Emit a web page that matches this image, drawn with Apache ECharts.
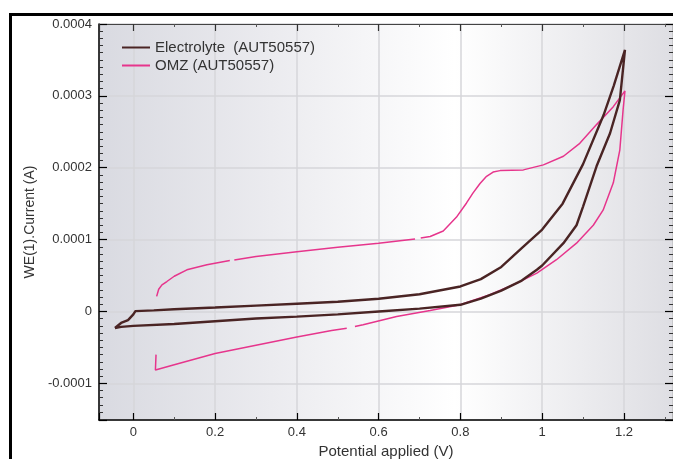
<!DOCTYPE html>
<html>
<head>
<meta charset="utf-8">
<script src="https://cdn.jsdelivr.net/npm/echarts@6/dist/echarts.min.js"></script>
<style>
html,body{margin:0;padding:0;background:#fff;}
#c{width:673px;height:459px;}
</style>
</head>
<body>
<div id="c"></div>
<script>
// ---- data ----
const seriesNames = ['Electrolyte  (AUT50557)', 'OMZ (AUT50557)'];

// Electrolyte: forward branch (left end -> vertex) then return branch (vertex -> left end)
const electrolyteV = [-0.045,-0.03,-0.013,0.0,0.005,0.05,0.1,0.2,0.3,0.4,0.5,0.6,0.7,0.8,0.85,0.9,0.95,1.0,1.05,1.1,1.15,1.175,1.2025,
  1.19,1.166,1.133,1.1,1.084,1.052,1.0,0.987,0.95,0.9,0.85,0.8,0.7,0.6,0.5,0.4,0.3,0.2,0.1,0.0,-0.03,-0.045];
const electrolyteI = [-0.000023,-0.000016,-0.000012,-0.000004,0.0000005,0.0000015,0.000003,0.0000055,0.0000082,0.0000108,0.0000135,0.0000177,0.000024,0.0000348,0.000045,0.000062,0.000088,0.000114,0.00015,0.000205,0.000273,0.000314,0.000364,
  0.000294,0.000248,0.000202,0.000146,0.00012,0.000095,0.000064,0.000058,0.000043,0.000029,0.000018,0.0000093,0.000004,0.0,-0.000004,-0.0000072,-0.0000098,-0.0000135,-0.0000175,-0.00002,-0.0000215,-0.000023];

// OMZ: forward branch then return branch (null = small gap in the trace)
const omzV = [0.057,0.062,0.07,0.082,0.1,0.131,0.18,0.236,0.241,0.247,0.3,0.4,0.5,0.6,0.689,0.696,0.703,0.726,0.758,0.79,0.815,0.831,0.848,0.864,0.88,0.897,0.954,1.003,1.052,1.092,1.133,1.174,1.2025,
  1.198,1.19,1.174,1.149,1.125,1.084,1.035,0.987,0.938,0.872,0.799,0.726,0.644,0.562,0.542,0.532,0.522,0.485,0.4,0.3,0.2,0.1,0.054,0.0555];
const omzI = [0.000021,0.000031,0.000037,0.0000417,0.000049,0.000058,0.000065,0.000071,null,0.0000715,0.0000765,0.000083,0.0000893,0.000095,0.0001008,null,0.0001023,0.0001043,0.000112,0.000131,0.000151,0.000165,0.000178,0.000188,0.000194,0.000196,0.000197,0.000204,0.000216,0.000234,0.00026,0.000285,0.000307,
  0.000281,0.000225,0.000179,0.000141,0.00012,0.000095,0.000072,0.0000534,0.0000395,0.0000232,0.0000093,0.0000014,-0.000007,-0.0000185,-0.000021,null,-0.0000235,-0.0000265,-0.0000355,-0.000047,-0.0000585,-0.000074,-0.0000815,-0.00006];

const xTicks = [0,0.2,0.4,0.6,0.8,1.0,1.2];
const xTickLabels = ['0','0.2','0.4','0.6','0.8','1','1.2'];
const yTicks = [-0.0001,0,0.0001,0.0002,0.0003,0.0004];
const yTickLabels = ['-0.0001','0','0.0001','0.0002','0.0003','0.0004'];

// ---- build ----
function pairs(xs, ys){ return xs.map((x,i)=>[x, ys[i] === null ? null : ys[i]]); }
function labelFrom(ticks, labels, tol){
  return function(v){
    for (let i=0;i<ticks.length;i++){ if (Math.abs(v-ticks[i])<tol) return labels[i]; }
    return '';
  };
}

const xMin = -0.084, xMax = 1.32;
const yMin = -0.000151, yMax = 0.0004;
const font = '"Liberation Sans", Arial, sans-serif';

const chart = echarts.init(document.getElementById('c'), null, {renderer:'canvas'});
chart.setOption({
  animation:false,
  backgroundColor:'#ffffff',
  textStyle:{fontFamily:font},
  grid:{
    left:99, right:0, top:24, bottom:39, show:true, borderWidth:0,
    containLabel:false, outerBoundsMode:'none',
    backgroundColor:{type:'linear',x:0,y:0,x2:1,y2:0,colorStops:[
      {offset:0,color:'#d9dae1'},{offset:0.3,color:'#ebebef'},{offset:0.62,color:'#ffffff'},{offset:1,color:'#dedee3'}]}
  },
  legend:{
    orient:'vertical', left:117, top:35, itemWidth:28, itemHeight:2, itemGap:3,
    icon:'rect',
    textStyle:{fontSize:15, color:'#333', fontFamily:font},
    data:seriesNames
  },
  xAxis:[{
    type:'value', min:xMin, max:xMax, splitNumber:7, position:'bottom',
    name:'Potential applied (V)', nameLocation:'middle', nameGap:21,
    nameTextStyle:{fontSize:15, color:'#333', fontFamily:font},
    axisLine:{show:true, onZero:false, lineStyle:{color:'#000', width:1.5}},
    axisTick:{show:true, inside:true, length:7, lineStyle:{color:'#000', width:1.2}},
    minorTick:{show:true, splitNumber:2, length:3, lineStyle:{color:'#555', width:1}},
    splitLine:{show:true, lineStyle:{color:'#d6d6da', width:1.5}},
    axisLabel:{margin:6, fontSize:13, color:'#333', fontFamily:font, formatter:labelFrom(xTicks,xTickLabels,1e-6)}
  },{
    type:'value', min:xMin, max:xMax, splitNumber:7, position:'top',
    axisLine:{show:true, onZero:false, lineStyle:{color:'#444', width:1.2}},
    axisTick:{show:true, inside:true, length:7, lineStyle:{color:'#333', width:1.2}},
    minorTick:{show:true, splitNumber:2, length:3, lineStyle:{color:'#555', width:1}},
    splitLine:{show:false}, axisLabel:{show:false}
  }],
  yAxis:[{
    type:'value', min:yMin, max:yMax, splitNumber:5, position:'left',
    name:'WE(1).Current (A)', nameLocation:'middle', nameGap:61, nameRotate:90,
    nameTextStyle:{fontSize:14, color:'#333', fontFamily:font},
    axisLine:{show:true, onZero:false, lineStyle:{color:'#000', width:1.5}},
    axisTick:{show:true, inside:true, length:8, lineStyle:{color:'#000', width:1.2}},
    minorTick:{show:true, splitNumber:10, length:4, lineStyle:{color:'#333', width:1}},
    splitLine:{show:true, lineStyle:{color:'#d6d6da', width:1.5}},
    axisLabel:{margin:7, fontSize:13, color:'#333', fontFamily:font, formatter:labelFrom(yTicks,yTickLabels,1e-9)}
  },{
    type:'value', min:yMin, max:yMax, splitNumber:5, position:'right',
    axisLine:{show:true, onZero:false, lineStyle:{color:'#444', width:1.2}},
    axisTick:{show:true, inside:true, length:8, lineStyle:{color:'#000', width:1.2}},
    minorTick:{show:true, splitNumber:10, length:4, lineStyle:{color:'#333', width:1}},
    splitLine:{show:false}, axisLabel:{show:false}
  }],
  series:[{
    name:seriesNames[0], type:'line', data:pairs(electrolyteV, electrolyteI),
    showSymbol:false, symbol:'none', connectNulls:false,
    color:'#4a2424', lineStyle:{color:'#4a2424', width:2.4}, z:3
  },{
    name:seriesNames[1], type:'line', data:pairs(omzV, omzI),
    showSymbol:false, symbol:'none', connectNulls:false,
    color:'#e6358c', lineStyle:{color:'#e6358c', width:1.5}, z:2
  }],
  graphic:[
    {type:'rect', left:9, top:13, shape:{width:3, height:446}, style:{fill:'#000'}, z:100},
    {type:'rect', left:9, top:13, shape:{width:664, height:3}, style:{fill:'#000'}, z:100}
  ]
});
</script>
</body>
</html>
